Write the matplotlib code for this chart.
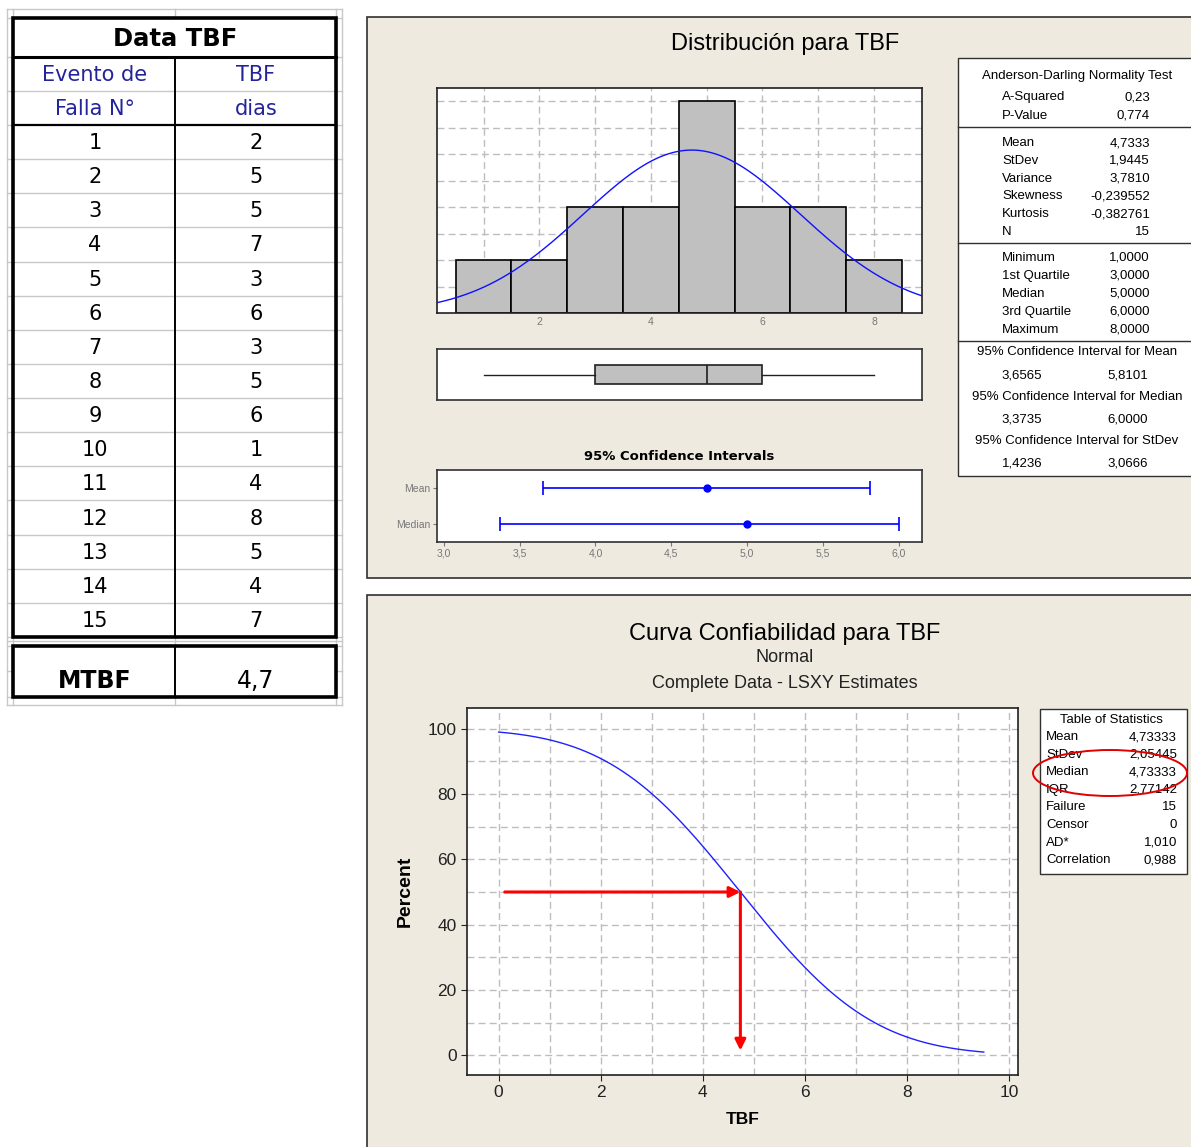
import math
import numpy as np
import matplotlib
matplotlib.use("Agg")
import matplotlib.pyplot as plt
from matplotlib.patches import Rectangle, Ellipse
from matplotlib.ticker import FuncFormatter

W, H = 1191, 1147

# ---------------- data ----------------
evento = list(range(1, 16))
tbf = [2, 5, 5, 7, 3, 6, 3, 5, 6, 1, 4, 8, 5, 4, 7]
mtbf_text = "4,7"

ad_labels = ["A-Squared", "P-Value"]
ad_values = ["0,23", "0,774"]
mom_labels = ["Mean", "StDev", "Variance", "Skewness", "Kurtosis", "N"]
mom_values = ["4,7333", "1,9445", "3,7810", "-0,239552", "-0,382761", "15"]
q_labels = ["Minimum", "1st Quartile", "Median", "3rd Quartile", "Maximum"]
q_values = ["1,0000", "3,0000", "5,0000", "6,0000", "8,0000"]
ci_titles = ["95% Confidence Interval for Mean",
             "95% Confidence Interval for Median",
             "95% Confidence Interval for StDev"]
ci_lo_txt = ["3,6565", "3,3735", "1,4236"]
ci_hi_txt = ["5,8101", "6,0000", "3,0666"]

fit_mean = 4.7333
fit_sd = 1.9445
box_min, box_q1, box_med, box_q3, box_max = 1.0, 3.0, 5.0, 6.0, 8.0

ci_names = ["Mean", "Median"]
ci_center = [4.7333, 5.0]
ci_low = [3.6565, 3.3735]
ci_high = [5.8101, 6.0]

rel_mean = 4.73333
rel_sd = 2.05445
rel_median = 4.73333
rel_labels = ["Mean", "StDev", "Median", "IQR", "Failure", "Censor", "AD*", "Correlation"]
rel_values = ["4,73333", "2,05445", "4,73333", "2,77142", "15", "0", "1,010", "0,988"]
rel_t_range = [0.0, 9.5]

# ---------------- helpers ----------------
plt.rcParams["font.family"] = ["Liberation Sans", "DejaVu Sans"]
fig = plt.figure(figsize=(W / 100, H / 100), dpi=100)
fig.patch.set_facecolor("white")


def pbox(x0, y0, x1, y1):
    return [x0 / W, 1 - y1 / H, (x1 - x0) / W, (y1 - y0) / H]


bg = fig.add_axes([0, 0, 1, 1])
bg.set_xlim(0, W)
bg.set_ylim(H, 0)
bg.axis("off")

PANEL = "#EEEAE0"
GRIDC = "#BDBDBD"

# ---------------- left spreadsheet table ----------------
TF = "DejaVu Sans"
row_h = (637 - 125) / 15
row_edges = [125 + i * row_h for i in range(16)]
gray_rows = [9, 18, 57, 91] + row_edges + [641, 646, 671, 697, 705]
for y in gray_rows:
    bg.plot([7, 342], [y, y], color="#C8C8C8", lw=1, zorder=1)
for x in [7, 13, 175, 336, 342]:
    bg.plot([x, x], [9, 705], color="#C8C8C8", lw=1, zorder=1)
bg.add_patch(Rectangle((13, 18), 323, 619, fill=True, facecolor="white",
                       edgecolor="none", zorder=1.5))
bg.add_patch(Rectangle((13, 646), 323, 51, fill=True, facecolor="white",
                       edgecolor="none", zorder=1.5))
for y in row_edges[1:-1]:
    bg.plot([13, 336], [y, y], color="#C8C8C8", lw=1, zorder=1.6)
bg.plot([13, 336], [91, 91], color="#C8C8C8", lw=1, zorder=1.6)
bg.add_patch(Rectangle((13, 18), 323, 619, fill=False, edgecolor="black", lw=2.6, zorder=3))
bg.plot([13, 336], [57, 57], color="black", lw=2.2, zorder=3)
bg.plot([13, 336], [125, 125], color="black", lw=1.6, zorder=3)
bg.plot([175, 175], [57, 637], color="black", lw=1.4, zorder=3)
bg.add_patch(Rectangle((13, 646), 323, 51, fill=False, edgecolor="black", lw=2.6, zorder=3))
bg.plot([175, 175], [646, 697], color="black", lw=1.4, zorder=3)

bg.text(175, 39, "Data TBF", ha="center", va="center", fontsize=17.5,
        fontweight="bold", family=TF, zorder=4)
blue = "#23239B"
bg.text(95, 75, "Evento de", ha="center", va="center", fontsize=15, color=blue, family=TF, zorder=4)
bg.text(95, 109, "Falla N°", ha="center", va="center", fontsize=15, color=blue, family=TF, zorder=4)
bg.text(256, 75, "TBF", ha="center", va="center", fontsize=15, color=blue, family=TF, zorder=4)
bg.text(256, 109, "dias", ha="center", va="center", fontsize=15, color=blue, family=TF, zorder=4)
for i, (e, t) in enumerate(zip(evento, tbf)):
    yc = row_edges[i] + row_h / 2 + 1
    bg.text(95, yc, str(e), ha="center", va="center", fontsize=15, family=TF, zorder=4)
    bg.text(256, yc, str(t), ha="center", va="center", fontsize=15, family=TF, zorder=4)
bg.text(95, 681, "MTBF", ha="center", va="center", fontsize=17, fontweight="bold", family=TF, zorder=4)
bg.text(256, 681, mtbf_text, ha="center", va="center", fontsize=17, family=TF, zorder=4)

# ---------------- panels ----------------
bg.add_patch(Rectangle((367, 17), 840, 561, facecolor=PANEL, edgecolor="#303030", lw=1.2, zorder=1))
bg.add_patch(Rectangle((367, 595), 840, 570, facecolor=PANEL, edgecolor="#303030", lw=1.2, zorder=1))

bg.text(785, 44, "Distribución para TBF", ha="center", va="center", fontsize=17, zorder=4)
bg.text(785, 634, "Curva Confiabilidad para TBF", ha="center", va="center", fontsize=17, zorder=4)
bg.text(785, 658, "Normal", ha="center", va="center", fontsize=13, color="#222222", zorder=4)
bg.text(785, 684, "Complete Data - LSXY Estimates", ha="center", va="center", fontsize=13,
        color="#222222", zorder=4)

# stats box (top)
bg.add_patch(Rectangle((958, 58), 250, 418, facecolor="white", edgecolor="#303030", lw=1, zorder=2))
for y in [127, 243, 341]:
    bg.plot([958, 1191], [y, y], color="#303030", lw=1, zorder=3)
SF = 9.5
bg.text(1077, 76, "Anderson-Darling Normality Test", ha="center", va="center", fontsize=SF, zorder=4)
LX, RX = 1002, 1150
for i, (l, v) in enumerate(zip(ad_labels, ad_values)):
    y = 97 + i * 19
    bg.text(LX, y, l, ha="left", va="center", fontsize=SF, zorder=4)
    bg.text(RX, y, v, ha="right", va="center", fontsize=SF, zorder=4)
for i, (l, v) in enumerate(zip(mom_labels, mom_values)):
    y = 143 + i * 17.8
    bg.text(LX, y, l, ha="left", va="center", fontsize=SF, zorder=4)
    bg.text(RX, y, v, ha="right", va="center", fontsize=SF, zorder=4)
for i, (l, v) in enumerate(zip(q_labels, q_values)):
    y = 258 + i * 18
    bg.text(LX, y, l, ha="left", va="center", fontsize=SF, zorder=4)
    bg.text(RX, y, v, ha="right", va="center", fontsize=SF, zorder=4)
for i, (t, lo, hi) in enumerate(zip(ci_titles, ci_lo_txt, ci_hi_txt)):
    y = 352 + i * 44.5
    bg.text(1077, y, t, ha="center", va="center", fontsize=SF, zorder=4)
    bg.text(1022, y + 23, lo, ha="center", va="center", fontsize=SF, zorder=4)
    bg.text(1128, y + 23, hi, ha="center", va="center", fontsize=SF, zorder=4)

# table of statistics (bottom)
bg.add_patch(Rectangle((1040, 709), 147, 165, facecolor="white", edgecolor="#303030", lw=1, zorder=2))
bg.text(1111, 720, "Table of Statistics", ha="center", va="center", fontsize=SF, zorder=4)
for i, (l, v) in enumerate(zip(rel_labels, rel_values)):
    y = 737 + i * 17.6
    bg.text(1046, y, l, ha="left", va="center", fontsize=SF, zorder=4)
    bg.text(1177, y, v, ha="right", va="center", fontsize=SF, zorder=4)
bg.add_patch(Ellipse((1110, 773), 154, 46, fill=False, edgecolor="#E00000", lw=1.4, zorder=5))

# ---------------- histogram ----------------
comma = FuncFormatter(lambda v, p: f"{v:.1f}".replace(".", ","))

axh = fig.add_axes(pbox(437, 88, 922, 313))
axh.set_facecolor("white")
bins = np.arange(0.5, 9.5, 1.0)
axh.hist(tbf, bins=bins, color="#C0C0C0", edgecolor="black", lw=1.2, zorder=2)
xs = np.linspace(0.16, 8.86, 400)
pdf = [len(tbf) * 1.0 * math.exp(-0.5 * ((x - fit_mean) / fit_sd) ** 2) / (fit_sd * math.sqrt(2 * math.pi)) for x in xs]
axh.plot(xs, pdf, color="#1010FF", lw=1.0, zorder=3)
axh.set_xlim(0.165, 8.86)
axh.set_ylim(0, 4.25)
axh.set_xticks(range(1, 9))
axh.set_xticklabels(["" if k % 2 else str(k) for k in range(1, 9)])
axh.set_yticks(np.arange(0.5, 4.01, 0.5))
axh.set_yticklabels([])
axh.tick_params(axis="y", length=0)
axh.tick_params(axis="x", length=0, labelsize=7.5, colors="#777777", pad=3)
axh.grid(True, color=GRIDC, ls=(0, (5, 3)), lw=1)
axh.set_axisbelow(True)
for s in axh.spines.values():
    s.set_color("#202020")
    s.set_linewidth(1.2)

# ---------------- boxplot ----------------
axb = fig.add_axes(pbox(437, 349, 922, 400))
axb.set_facecolor("white")
axb.bxp([{"med": box_med, "q1": box_q1, "q3": box_q3, "whislo": box_min,
          "whishi": box_max, "fliers": []}], orientation="horizontal",
        widths=0.37, showcaps=False, patch_artist=True,
        boxprops=dict(facecolor="#C0C0C0", edgecolor="#202020", lw=1.2),
        medianprops=dict(color="#202020", lw=1.2),
        whiskerprops=dict(color="#202020", lw=1.0))
axb.set_xlim(0.165, 8.86)
axb.set_ylim(0.5, 1.5)
axb.set_xticks([])
axb.set_yticks([])
for s in axb.spines.values():
    s.set_color("#303030")
    s.set_linewidth(1.2)

# ---------------- CI plot ----------------
axc = fig.add_axes(pbox(437, 470, 922, 542))
axc.set_facecolor("white")
ypos = [2, 1]
for yp, c, lo, hi in zip(ypos, ci_center, ci_low, ci_high):
    axc.errorbar([c], [yp], xerr=[[c - lo], [hi - c]], fmt="o", color="#0000FF",
                 ms=5, lw=1.2, capsize=5, capthick=1.2)
axc.set_xlim(2.955, 6.153)
axc.set_ylim(0.5, 2.5)
axc.set_xticks(np.arange(3.0, 6.01, 0.5))
axc.xaxis.set_major_formatter(comma)
axc.set_yticks(ypos)
axc.set_yticklabels(ci_names)
axc.tick_params(labelsize=7.5, colors="#777777", length=3, pad=2)
for s in axc.spines.values():
    s.set_color("#303030")
    s.set_linewidth(1.2)
bg.text(679, 457, "95% Confidence Intervals", ha="center", va="center", fontsize=9.5,
        fontweight="bold", family="DejaVu Sans", zorder=4)

# ---------------- reliability plot ----------------
axr = fig.add_axes(pbox(467, 708, 1018, 1075))
axr.set_facecolor("white")
ts = np.linspace(rel_t_range[0], rel_t_range[1], 400)
rel = [100 * (1 - 0.5 * (1 + math.erf((t - rel_mean) / (rel_sd * math.sqrt(2))))) for t in ts]
axr.plot(ts, rel, color="#2020FF", lw=1.0, zorder=3)
axr.set_xlim(-0.62, 10.17)
axr.set_ylim(-6.0, 106.3)
axr.set_xticks(range(0, 11, 2))
axr.set_xticks(range(0, 11), minor=True)
axr.set_yticks(range(0, 101, 20))
axr.set_yticks(range(0, 101, 10), minor=True)
axr.tick_params(which="major", labelsize=12.5, colors="#222222", length=4)
axr.tick_params(which="minor", length=0)
axr.grid(True, which="both", color=GRIDC, ls=(0, (5, 3)), lw=1)
axr.set_axisbelow(True)
for s in axr.spines.values():
    s.set_color("#202020")
    s.set_linewidth(1.2)
axr.set_xlabel("TBF", fontsize=12.5, fontweight="bold", labelpad=8)
axr.set_ylabel("Percent", fontsize=14, fontweight="bold", labelpad=10)
axr.annotate("", xy=(rel_median, 50), xytext=(0.12, 50),
             arrowprops=dict(arrowstyle="-|>", color="red", lw=2.2, mutation_scale=16,
                             shrinkA=0, shrinkB=0), zorder=5)
axr.annotate("", xy=(rel_median, 1.5), xytext=(rel_median, 50),
             arrowprops=dict(arrowstyle="-|>", color="red", lw=2.2, mutation_scale=16,
                             shrinkA=0, shrinkB=0), zorder=5)

fig.savefig("out.png", dpi=100, facecolor="white")
